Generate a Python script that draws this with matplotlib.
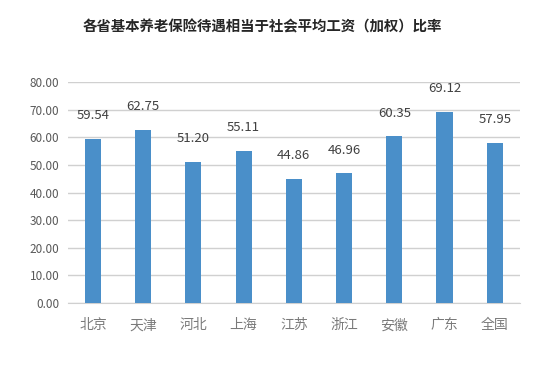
import matplotlib.pyplot as plt
from matplotlib.ticker import FormatStrFormatter

plt.rcParams['font.family'] = ['Noto Sans CJK SC', 'DejaVu Sans']

# --------------------------------------------------
# Data
# --------------------------------------------------

regions = ["北京", "天津", "河北", "上海", "江苏", "浙江", "安徽", "广东", "全国"]
ratio = [59.54, 62.75, 51.20, 55.11, 44.86, 46.96, 60.35, 69.12, 57.95]

yticks = [0, 10, 20, 30, 40, 50, 60, 70, 80]

# --------------------------------------------------
# Plot
# --------------------------------------------------

fig = plt.figure(figsize=(5.56, 3.65), dpi=100)
ax = fig.add_axes([0.122, 0.170, 0.813, 0.605])

x = range(len(regions))
ax.bar(x, ratio, width=0.32, color="#4a8fc9", zorder=3)

for xi, v in zip(x, ratio):
    ax.annotate(f"{v:.2f}", (xi, v), xytext=(0, 12), textcoords="offset points",
                ha="center", va="bottom", fontsize=9.5, color="#404040")

ax.set_xlim(-0.5, len(regions) - 0.5)
ax.set_ylim(0, 80)
ax.set_yticks(yticks)
ax.yaxis.set_major_formatter(FormatStrFormatter("%.2f"))
ax.set_xticks(list(x))
ax.set_xticklabels(regions)

ax.grid(axis="y", color="#d0d0d0", lw=1, zorder=0)
for s in ["top", "right", "left"]:
    ax.spines[s].set_visible(False)
ax.spines["bottom"].set_color("#d0d0d0")
ax.tick_params(axis="y", length=0, labelsize=8.5, colors="#595959", pad=6)
ax.tick_params(axis="x", length=0, labelsize=10, colors="#7a7a7a", pad=11)

fig.text(0.472, 0.925, "各省基本养老保险待遇相当于社会平均工资（加权）比率",
         ha="center", va="center", fontsize=10.4, fontweight="bold", color="#262626")

fig.savefig("out.png", dpi=100)
